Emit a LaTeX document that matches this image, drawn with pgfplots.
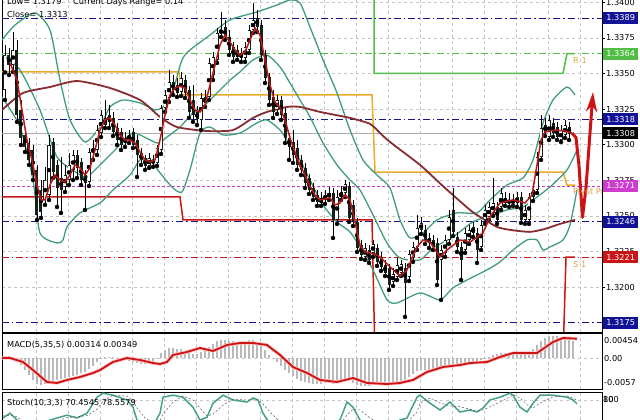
\documentclass[border=0pt]{standalone}
\usepackage{pgfplots}
\pgfplotsset{compat=1.18}
\usepackage{pgfplotstable}
\usepackage{fontspec}
\setmainfont{DejaVu Sans}
\usetikzlibrary{arrows.meta}

\definecolor{bbteal}{RGB}{64,156,124}
\definecolor{mared}{RGB}{185,25,25}
\definecolor{lmabrown}{RGB}{135,45,50}
\definecolor{pivorange}{RGB}{235,170,40}
\definecolor{r1green}{RGB}{80,190,70}
\definecolor{s1red}{RGB}{205,20,20}
\definecolor{navylvl}{RGB}{20,20,140}
\definecolor{magentalvl}{RGB}{205,60,205}
\definecolor{goldtxt}{RGB}{215,165,70}
\definecolor{candledn}{RGB}{20,32,24}
\definecolor{histgray}{RGB}{185,185,185}
\definecolor{stochteal}{RGB}{70,160,140}

\pgfplotsset{
  panel/.style={scale only axis, width=600pt, xmin=2, xmax=602, anchor=south west,
    axis line style={black, line width=0.8pt},
    xtick={36,68,...,580}, xticklabels={}, xmajorgrids, major x tick style={draw=none},
    grid style={gray!45, dash pattern=on 3pt off 3pt, line width=0.5pt},
    scaled y ticks=false, clip mode=individual},
  lvl/.style={line width=0.7pt},
  dashdot/.style={dash pattern=on 7pt off 3pt on 1.5pt off 3pt},
}

% EURUSD candles: x (chart position), open, high, low, close
\pgfplotstableread{
x o h l c
5 1.33384 1.33700 1.33314 1.33630
9 1.33630 1.33679 1.33489 1.33560
13 1.33560 1.33791 1.33511 1.33665
17 1.33665 1.33735 1.33160 1.33209
21 1.33244 1.33314 1.32998 1.33047
25 1.33068 1.33117 1.32949 1.32984
29 1.33012 1.33047 1.32858 1.32893
33 1.32963 1.32998 1.32752 1.32787
37 1.32823 1.32858 1.32472 1.32507
41 1.32682 1.32752 1.32486 1.32528
45 1.32612 1.32844 1.32577 1.32752
49 1.32647 1.33068 1.32612 1.32998
53 1.33019 1.33047 1.32766 1.32809
57 1.32858 1.32893 1.32563 1.32696
61 1.32766 1.32914 1.32521 1.32682
65 1.32703 1.32858 1.32668 1.32787
69 1.32752 1.32942 1.32717 1.32858
73 1.32823 1.32963 1.32752 1.32928
77 1.32928 1.32963 1.32766 1.32837
81 1.32879 1.32907 1.32717 1.32752
85 1.32787 1.32823 1.32542 1.32731
89 1.32738 1.32977 1.32710 1.32949
93 1.32942 1.33033 1.32893 1.32977
97 1.32963 1.33138 1.32928 1.33103
101 1.33082 1.33244 1.33054 1.33209
105 1.33138 1.33314 1.33117 1.33188
109 1.33209 1.33279 1.33117 1.33160
113 1.33188 1.33230 1.33061 1.33089
117 1.33117 1.33153 1.32998 1.33033
121 1.33089 1.33117 1.32963 1.32998
125 1.33012 1.33089 1.32984 1.33047
129 1.33033 1.33103 1.33012 1.33068
133 1.33089 1.33117 1.32977 1.32998
137 1.33033 1.33068 1.32773 1.32928
141 1.32942 1.32977 1.32858 1.32893
145 1.32907 1.32928 1.32823 1.32851
149 1.32851 1.32942 1.32837 1.32907
153 1.32893 1.32928 1.32844 1.32872
157 1.32872 1.32998 1.32851 1.32977
161 1.32963 1.33279 1.32935 1.33258
165 1.33258 1.33384 1.33230 1.33349
169 1.33328 1.33525 1.33300 1.33440
173 1.33440 1.33489 1.33349 1.33384
177 1.33419 1.33468 1.33335 1.33363
181 1.33370 1.33511 1.33342 1.33468
185 1.33454 1.33489 1.33328 1.33363
189 1.33384 1.33412 1.33188 1.33230
193 1.33314 1.33419 1.33160 1.33209
197 1.33230 1.33272 1.33138 1.33181
201 1.33174 1.33363 1.33103 1.33328
205 1.33293 1.33384 1.33265 1.33335
209 1.33335 1.33609 1.33314 1.33574
213 1.33489 1.33651 1.33454 1.33616
217 1.33595 1.33819 1.33574 1.33784
221 1.33784 1.33932 1.33756 1.33805
225 1.33826 1.33876 1.33735 1.33756
229 1.33756 1.33805 1.33630 1.33665
233 1.33686 1.33721 1.33581 1.33616
237 1.33665 1.33700 1.33595 1.33616
241 1.33644 1.33679 1.33581 1.33609
245 1.33609 1.33721 1.33581 1.33686
249 1.33665 1.33840 1.33644 1.33805
253 1.33805 1.33995 1.33784 1.33876
257 1.33890 1.33946 1.33791 1.33826
261 1.33840 1.33876 1.33595 1.33630
265 1.33630 1.33665 1.33433 1.33468
269 1.33475 1.33504 1.33279 1.33314
273 1.33335 1.33384 1.33188 1.33230
277 1.33244 1.33349 1.33216 1.33314
281 1.33314 1.33342 1.33174 1.33209
285 1.33223 1.33258 1.33012 1.33047
289 1.33047 1.33082 1.32893 1.32984
293 1.33019 1.33103 1.32872 1.32928
297 1.32977 1.33033 1.32823 1.32858
301 1.32893 1.32928 1.32787 1.32823
305 1.32837 1.32872 1.32696 1.32731
309 1.32766 1.32795 1.32654 1.32682
313 1.32696 1.32731 1.32612 1.32633
317 1.32647 1.32682 1.32570 1.32598
321 1.32591 1.32668 1.32570 1.32626
325 1.32612 1.32682 1.32584 1.32647
329 1.32633 1.32703 1.32612 1.32661
333 1.32661 1.32696 1.32345 1.32472
337 1.32472 1.32682 1.32444 1.32633
341 1.32633 1.32710 1.32612 1.32668
345 1.32661 1.32752 1.32633 1.32724
349 1.32710 1.32738 1.32458 1.32486
353 1.32577 1.32612 1.32429 1.32458
357 1.32458 1.32486 1.32247 1.32275
361 1.32296 1.32331 1.32198 1.32226
365 1.32212 1.32310 1.32191 1.32275
369 1.32261 1.32296 1.32170 1.32191
373 1.32240 1.32331 1.32212 1.32303
377 1.32275 1.32303 1.32149 1.32177
381 1.32205 1.32247 1.32114 1.32142
385 1.32156 1.32191 1.32078 1.32100
389 1.32135 1.32163 1.31980 1.32015
393 1.32036 1.32135 1.32008 1.32093
397 1.32071 1.32205 1.32050 1.32156
401 1.32100 1.32191 1.32078 1.32163
405 1.32135 1.32170 1.31791 1.32029
409 1.32071 1.32261 1.32043 1.32233
413 1.32205 1.32317 1.32177 1.32282
417 1.32282 1.32507 1.32261 1.32415
421 1.32401 1.32493 1.32373 1.32451
425 1.32401 1.32436 1.32303 1.32331
429 1.32345 1.32380 1.32275 1.32310
433 1.32331 1.32366 1.32261 1.32282
437 1.32310 1.32345 1.32015 1.32050
441 1.32191 1.32296 1.31910 1.32261
445 1.32240 1.32366 1.32212 1.32331
449 1.32331 1.32542 1.32303 1.32493
453 1.32542 1.32696 1.32359 1.32387
457 1.32352 1.32387 1.32247 1.32282
461 1.32282 1.32317 1.32050 1.32191
465 1.32261 1.32415 1.32240 1.32380
469 1.32331 1.32436 1.32303 1.32401
473 1.32380 1.32458 1.32352 1.32422
477 1.32380 1.32415 1.32170 1.32261
481 1.32282 1.32472 1.32261 1.32436
485 1.32472 1.32577 1.32444 1.32542
489 1.32493 1.32598 1.32472 1.32563
493 1.32521 1.32766 1.32500 1.32591
497 1.32563 1.32598 1.32444 1.32472
501 1.32563 1.32696 1.32542 1.32661
505 1.32591 1.32668 1.32570 1.32626
509 1.32612 1.32661 1.32563 1.32591
513 1.32591 1.32654 1.32570 1.32612
517 1.32591 1.32668 1.32563 1.32633
521 1.32633 1.32668 1.32451 1.32472
525 1.32472 1.32577 1.32444 1.32542
529 1.32472 1.32661 1.32444 1.32633
533 1.32633 1.32717 1.32605 1.32682
537 1.32682 1.32949 1.32661 1.32914
541 1.32914 1.33209 1.32893 1.33117
545 1.33138 1.33188 1.33061 1.33089
549 1.33054 1.33209 1.33033 1.33174
553 1.33153 1.33188 1.33054 1.33082
557 1.33124 1.33160 1.33033 1.33054
561 1.33033 1.33138 1.33019 1.33103
565 1.33068 1.33174 1.33047 1.33138
569 1.33124 1.33160 1.33033 1.33075
}\candles

% MACD histogram
\pgfplotstableread{
x m
5 0.00033
9 0.00033
13 0.00015
17 -0.00040
21 -0.00131
25 -0.00223
29 -0.00314
33 -0.00405
37 -0.00479
41 -0.00497
45 -0.00479
49 -0.00442
53 -0.00424
57 -0.00405
61 -0.00387
65 -0.00369
69 -0.00351
73 -0.00332
77 -0.00314
81 -0.00277
85 -0.00259
89 -0.00204
93 -0.00150
97 -0.00076
101 -0.00022
105 0.00015
109 0.00015
113 0.00015
117 -0.00003
121 -0.00022
125 -0.00040
129 -0.00058
133 -0.00076
137 -0.00095
141 -0.00113
145 -0.00113
149 -0.00095
153 -0.00076
157 -0.00003
161 0.00088
165 0.00143
169 0.00180
173 0.00180
177 0.00161
181 0.00161
185 0.00125
189 0.00088
193 0.00070
197 0.00070
201 0.00107
205 0.00143
209 0.00198
213 0.00253
217 0.00308
221 0.00326
225 0.00326
229 0.00308
233 0.00308
237 0.00289
241 0.00289
245 0.00308
249 0.00326
253 0.00326
257 0.00289
261 0.00216
265 0.00143
269 0.00052
273 -0.00022
277 -0.00076
281 -0.00150
285 -0.00223
289 -0.00277
293 -0.00332
297 -0.00387
301 -0.00424
305 -0.00442
309 -0.00460
313 -0.00479
317 -0.00479
321 -0.00479
325 -0.00460
329 -0.00460
333 -0.00479
337 -0.00460
341 -0.00424
345 -0.00405
349 -0.00424
353 -0.00460
357 -0.00497
361 -0.00515
365 -0.00515
369 -0.00515
373 -0.00497
377 -0.00497
381 -0.00497
385 -0.00497
389 -0.00497
393 -0.00479
397 -0.00460
401 -0.00442
405 -0.00405
409 -0.00351
413 -0.00296
417 -0.00241
421 -0.00223
425 -0.00223
429 -0.00241
433 -0.00223
437 -0.00204
441 -0.00168
445 -0.00150
449 -0.00150
453 -0.00150
457 -0.00131
461 -0.00113
465 -0.00113
469 -0.00095
473 -0.00076
477 -0.00058
481 -0.00040
485 -0.00003
489 0.00015
493 0.00052
497 0.00070
501 0.00088
505 0.00090
509 0.00085
513 0.00088
517 0.00092
521 0.00085
525 0.00088
529 0.00095
533 0.00161
537 0.00235
541 0.00308
545 0.00363
549 0.00399
553 0.00399
557 0.00399
561 0.00381
565 0.00363
569 0.00344
573 0.00314
}\macd

\begin{document}
\begin{tikzpicture}[x=1pt, y=1pt, font=\fontsize{8.2}{9.8}\selectfont]
\path[use as bounding box, clip] (0,0) rectangle (640,420);

% ---------------- price window ----------------
\begin{axis}[panel, at={(2pt,88pt)}, height=337pt, ymin=1.31685, ymax=1.34051,
  ytick={1.3200,1.3225,1.3250,1.3275,1.3300,1.3325,1.3350,1.3375,1.3400},
  ytick pos=right, ymajorgrids, tick align=outside, major tick length=3pt,
  major y tick style={black, line width=0.6pt},
  yticklabel style={inner sep=1pt, /pgf/number format/.cd, fixed, fixed zerofill,
    precision=4, assume math mode=true}]
% horizontal levels
\addplot[lvl, navylvl, dashdot] coordinates {(2,1.3389) (602,1.3389)};
\addplot[lvl, r1green, dashdot] coordinates {(2,1.3364) (602,1.3364)};
\addplot[lvl, navylvl, dashdot] coordinates {(2,1.3318) (602,1.3318)};
\addplot[lvl, gray!65] coordinates {(2,1.3308) (602,1.3308)};
\addplot[lvl, magentalvl, dash pattern=on 3pt off 2pt] coordinates {(2,1.3271) (602,1.3271)};
\addplot[lvl, navylvl, dashdot] coordinates {(2,1.3246) (602,1.3246)};
\addplot[lvl, s1red, dashdot] coordinates {(2,1.3221) (602,1.3221)};
\addplot[lvl, navylvl, dashdot] coordinates {(2,1.3175) (602,1.3175)};
% daily pivot steps
\addplot[r1green, line width=1.5pt] coordinates {(374,1.3420) (374,1.3350) (563,1.3350) (567,1.3364) (575,1.3364)};
\addplot[pivorange, line width=1.5pt] coordinates {(2,1.33511) (179,1.33511) (182,1.3335) (372,1.3335) (375,1.32808) (563,1.32808) (567,1.32717) (575,1.32717)};
\addplot[s1red, line width=1.5pt] coordinates {(2,1.32633) (180,1.32633) (183,1.32472) (372,1.32472) (375,1.3150) (563,1.3150) (566,1.3221) (575,1.3221)};
% Bollinger bands
\addplot[bbteal, line width=1.3pt, smooth, tension=0.4] coordinates {(2,1.33735) (15,1.33840) (35,1.33925) (50,1.33805) (60,1.33454) (70,1.33174) (85,1.33019) (100,1.33124) (110,1.33265) (123,1.33314) (140,1.33293) (155,1.33244) (163,1.33265) (173,1.33384) (182,1.33595) (190,1.33665) (210,1.33770) (230,1.33876) (257,1.33932) (277,1.33981) (290,1.34016) (300,1.33995) (310,1.33826) (323,1.33595) (337,1.33363) (350,1.33103) (363,1.32893) (377,1.32787) (390,1.32696) (400,1.32472) (410,1.32345) (423,1.32380) (437,1.32472) (457,1.32521) (477,1.32521) (490,1.32612) (507,1.32717) (523,1.32766) (533,1.32893) (543,1.33153) (553,1.33314) (567,1.33405) (575,1.33349)};
\addplot[bbteal, line width=1.3pt, smooth, tension=0.4] coordinates {(2,1.33630) (20,1.33525) (40,1.33244) (57,1.32914) (77,1.32802) (87,1.32773) (100,1.32858) (115,1.32963) (133,1.33082) (157,1.33012) (167,1.33054) (180,1.33124) (193,1.33223) (200,1.33244) (210,1.33314) (220,1.33384) (230,1.33454) (240,1.33511) (253,1.33595) (267,1.33630) (280,1.33546) (290,1.33433) (300,1.33314) (310,1.33195) (323,1.33012) (337,1.32858) (350,1.32752) (360,1.32682) (373,1.32507) (387,1.32310) (400,1.32205) (420,1.32191) (433,1.32275) (453,1.32352) (473,1.32458) (493,1.32507) (507,1.32542) (523,1.32563) (533,1.32612) (550,1.32703) (567,1.32823) (577,1.32963)};
\addplot[bbteal, line width=1.3pt, smooth, tension=0.4] coordinates {(2,1.33335) (20,1.33124) (33,1.32752) (40,1.32380) (57,1.32310) (63,1.32331) (67,1.32423) (80,1.32521) (100,1.32591) (113,1.32682) (130,1.32787) (140,1.32893) (150,1.32893) (160,1.32802) (173,1.32696) (182,1.32668) (190,1.32823) (200,1.33082) (210,1.33124) (223,1.33068) (240,1.33082) (257,1.33153) (267,1.33174) (280,1.33103) (290,1.32998) (300,1.32893) (310,1.32752) (323,1.32577) (337,1.32458) (350,1.32388) (360,1.32282) (373,1.32121) (387,1.31911) (397,1.31889) (420,1.31959) (440,1.31911) (453,1.31995) (467,1.32050) (487,1.32121) (500,1.32177) (513,1.32261) (527,1.32331) (537,1.32331) (543,1.32261) (550,1.32282) (563,1.32331) (570,1.32437) (577,1.32683)};
% slow moving average
\addplot[lmabrown, line width=1.8pt, smooth, tension=0.4] coordinates {(2,1.33244) (23,1.33363) (50,1.33405) (77,1.33447) (110,1.33398) (140,1.33314) (160,1.33195) (177,1.33124) (207,1.33096) (233,1.33103) (253,1.33188) (267,1.33230) (287,1.33265) (300,1.33265) (320,1.33230) (350,1.33188) (370,1.33146) (380,1.33082) (390,1.33019) (420,1.32858) (445,1.32696) (470,1.32542) (480,1.32493) (497,1.32423) (510,1.32402) (530,1.32388) (545,1.32409) (560,1.32444) (575,1.32472)};
% candles: wicks, bodies, hollow up-bodies
\addplot[only marks, mark=none, error bars/.cd, y dir=plus, y explicit, error mark=none,
  error bar style={black, line width=0.8pt}]
  table[x=x, y=l, y error expr=\thisrow{h}-\thisrow{l}] {\candles};
\addplot[only marks, mark=none, error bars/.cd, y dir=both, y explicit, error mark=none,
  error bar style={candledn, line width=3pt}]
  table[x=x, y expr={(\thisrow{o}+\thisrow{c})/2}, y error expr={max(abs(\thisrow{c}-\thisrow{o})/2,0.00002)}] {\candles};
\addplot[only marks, mark=none, x filter/.expression={\thisrow{c}>\thisrow{o} ? x : nan},
  error bars/.cd, y dir=both, y explicit, error mark=none,
  error bar style={white, line width=1.3pt}]
  table[x=x, y expr={(\thisrow{o}+\thisrow{c})/2}, y error expr={max((\thisrow{c}-\thisrow{o})/2-0.00006,0)}] {\candles};
% fast moving average
\addplot[mared, line width=1.5pt] coordinates {(10,1.33574) (17,1.33454) (22,1.33244) (27,1.33033) (32,1.32893) (37,1.32717) (41,1.32612) (45,1.32612) (50,1.32717) (55,1.32787) (60,1.32752) (65,1.32738) (70,1.32787) (75,1.32858) (80,1.32837) (85,1.32787) (90,1.32837) (95,1.32963) (100,1.33103) (105,1.33174) (110,1.33188) (115,1.33138) (120,1.33068) (125,1.33033) (130,1.33033) (135,1.33012) (140,1.32949) (145,1.32893) (150,1.32879) (155,1.32893) (160,1.33033) (165,1.33209) (170,1.33349) (175,1.33398) (180,1.33412) (185,1.33398) (190,1.33314) (195,1.33244) (200,1.33230) (205,1.33279) (210,1.33419) (215,1.33560) (220,1.33700) (225,1.33770) (230,1.33721) (235,1.33665) (240,1.33630) (245,1.33651) (250,1.33735) (255,1.33819) (260,1.33770) (265,1.33595) (270,1.33419) (275,1.33300) (280,1.33258) (285,1.33174) (290,1.33047) (295,1.32949) (300,1.32858) (305,1.32787) (310,1.32710) (315,1.32647) (320,1.32612) (325,1.32619) (330,1.32626) (335,1.32577) (340,1.32591) (345,1.32647) (350,1.32612) (355,1.32458) (360,1.32296) (365,1.32247) (370,1.32240) (375,1.32233) (380,1.32212) (390,1.32142) (400,1.32078) (407,1.32121) (417,1.32282) (423,1.32331) (430,1.32317) (440,1.32212) (447,1.32261) (460,1.32331) (470,1.32317) (483,1.32380) (490,1.32493) (500,1.32591) (513,1.32612) (525,1.32591) (532,1.32647) (537,1.32858) (541,1.33033) (545,1.33089) (555,1.33103) (565,1.33096) (572,1.33082)};
% forecast arrow
\addplot[s1red, line width=3pt, line join=round, -{Stealth[length=20pt, width=11pt]}] coordinates {(572,1.33082) (576,1.33050) (579,1.32850) (582.5,1.32490) (586,1.32700) (593,1.33370)};
% anchors for the price boxes
\coordinate (B1389) at (axis cs:602,1.3389);
\coordinate (B1364) at (axis cs:602,1.3364);
\coordinate (B1318) at (axis cs:602,1.3318);
\coordinate (B1308) at (axis cs:602,1.3308);
\coordinate (B1271) at (axis cs:602,1.3271);
\coordinate (B1246) at (axis cs:602,1.3246);
\coordinate (B1221) at (axis cs:602,1.3221);
\coordinate (B1175) at (axis cs:602,1.3175);
\end{axis}

% ---------------- MACD window ----------------
\begin{axis}[panel, at={(2pt,31pt)}, height=56pt, ymin=-0.0057, ymax=0.00454,
  ytick={0}, yticklabels={}, ymajorgrids, major y tick style={draw=none}]
\addplot[ycomb, histgray, line width=2pt] table[x=x, y=m] {\macd};
\addplot[red!25, line width=3.4pt] coordinates {(2,-0.00003) (10,-0.00003) (23,-0.00076) (33,-0.00223) (47,-0.00442) (57,-0.00460) (67,-0.00405) (80,-0.00351) (93,-0.00277) (100,-0.00223) (113,-0.00076) (127,-0.00003) (140,-0.00040) (153,-0.00095) (160,-0.00113) (167,-0.00076) (173,0.00052) (187,0.00107) (200,0.00180) (213,0.00125) (227,0.00235) (240,0.00271) (253,0.00271) (267,0.00235) (280,0.00052) (293,-0.00168) (307,-0.00277) (320,-0.00405) (337,-0.00442) (353,-0.00369) (367,-0.00460) (387,-0.00479) (400,-0.00460) (413,-0.00405) (427,-0.00259) (443,-0.00168) (460,-0.00131) (470,-0.00095) (487,-0.00076) (500,0.00015) (513,0.00088) (537,0.00088) (553,0.00289) (563,0.00363) (577,0.00349)};
\addplot[s1red, line width=1.8pt] coordinates {(2,-0.00003) (10,-0.00003) (23,-0.00076) (33,-0.00223) (47,-0.00442) (57,-0.00460) (67,-0.00405) (80,-0.00351) (93,-0.00277) (100,-0.00223) (113,-0.00076) (127,-0.00003) (140,-0.00040) (153,-0.00095) (160,-0.00113) (167,-0.00076) (173,0.00052) (187,0.00107) (200,0.00180) (213,0.00125) (227,0.00235) (240,0.00271) (253,0.00271) (267,0.00235) (280,0.00052) (293,-0.00168) (307,-0.00277) (320,-0.00405) (337,-0.00442) (353,-0.00369) (367,-0.00460) (387,-0.00479) (400,-0.00460) (413,-0.00405) (427,-0.00259) (443,-0.00168) (460,-0.00131) (470,-0.00095) (487,-0.00076) (500,0.00015) (513,0.00088) (537,0.00088) (553,0.00289) (563,0.00363) (577,0.00349)};
\end{axis}

% ---------------- Stochastic window ----------------
\begin{axis}[panel, at={(2pt,-12pt)}, height=40pt, ymin=0, ymax=100,
  ytick={20,80}, yticklabels={}, ymajorgrids, major y tick style={draw=none}]
\addplot[stochteal, line width=1.5pt] coordinates {(3,35) (10,47) (17,30) (25,10) (35,5) (45,20) (50,30) (60,37) (67,42) (77,35) (87,47) (97,87) (103,97) (113,92) (127,80) (133,62) (137,30) (145,15) (155,25) (160,47) (163,87) (173,92) (183,87) (193,62) (200,30) (207,37) (213,72) (223,92) (233,80) (247,75) (253,85) (258,80) (263,47) (270,20) (280,10) (300,5) (320,10) (330,20) (340,30) (347,75) (353,62) (360,30) (370,10) (385,5) (400,30) (407,35) (417,87) (420,92) (430,72) (440,55) (450,75) (453,67) (460,50) (470,55) (477,50) (483,60) (490,80) (500,87) (510,97) (513,92) (520,62) (527,50) (533,72) (540,92) (553,92) (567,87) (573,80) (577,70.45)};
\addplot[black!65, dash pattern=on 2pt off 2pt, line width=0.5pt] coordinates {(3,40) (10,42) (17,38) (25,25) (35,12) (45,12) (50,18) (60,30) (67,36) (77,38) (87,41) (97,57) (103,77) (113,92) (127,90) (133,78) (137,60) (145,35) (155,20) (160,28) (163,45) (173,75) (183,90) (193,80) (200,60) (207,40) (213,45) (223,67) (233,82) (247,80) (253,80) (258,80) (263,70) (270,50) (280,25) (300,10) (320,7) (330,12) (340,20) (347,42) (353,57) (360,55) (370,35) (385,13) (400,13) (407,23) (417,50) (420,72) (430,85) (440,73) (450,65) (453,65) (460,63) (470,57) (477,53) (483,55) (490,63) (500,75) (510,88) (513,93) (520,85) (527,68) (533,60) (540,72) (553,88) (567,90) (573,85) (577,78.56)};
\end{axis}

% price boxes on the right scale
\tikzset{pbox/.style={anchor=west, text=white, inner sep=0pt, minimum width=35pt, minimum height=12pt}}
\node[pbox, fill=navylvl!90!blue] at ([xshift=1pt]B1389) {1.3389};
\node[pbox, fill=r1green] at ([xshift=1pt]B1364) {1.3364};
\node[pbox, fill=navylvl!90!blue] at ([xshift=1pt]B1318) {1.3318};
\node[pbox, fill=black] at ([xshift=1pt]B1308) {1.3308};
\node[pbox, fill=magentalvl] at ([xshift=1pt]B1271) {1.3271};
\node[pbox, fill=navylvl!90!blue] at ([xshift=1pt]B1246) {1.3246};
\node[pbox, fill=s1red] at ([xshift=1pt]B1221) {1.3221};
\node[pbox, fill=navylvl!90!blue] at ([xshift=1pt]B1175) {1.3175};

% texts
\node[anchor=base west, inner sep=0pt] at (7,415) {Low= 1.3179};
\node[anchor=base west, inner sep=0pt] at (73,415) {Current Days Range= 0.14};
\node[anchor=base west, inner sep=0pt] at (7,402) {Close= 1.3313};
\node[anchor=base west, inner sep=0pt, text=goldtxt] at (573,356) {R 1};
\node[anchor=base west, inner sep=0pt, text=goldtxt] at (573,152) {S 1};
\begin{scope}
\clip (2,0) rectangle (601,420);
\node[anchor=base west, inner sep=0pt, text=goldtxt] at (573,225) {Pivot Point};
\end{scope}
\node[anchor=base west, inner sep=0pt] at (7,72) {MACD(5,35,5) 0.00314 0.00349};
\node[anchor=base west, inner sep=0pt] at (7,14) {Stoch(10,3,3) 70.4545 78.5579};
\node[anchor=west, inner sep=0pt] at (604,79) {0.00454};
\node[anchor=west, inner sep=0pt] at (604,61) {0.00};
\node[anchor=west, inner sep=0pt] at (604,37) {-0.0057};
\node[anchor=west, inner sep=0pt] at (603,20) {100};
\node[anchor=west, inner sep=0pt] at (603,20) {80};
\end{tikzpicture}
\end{document}
